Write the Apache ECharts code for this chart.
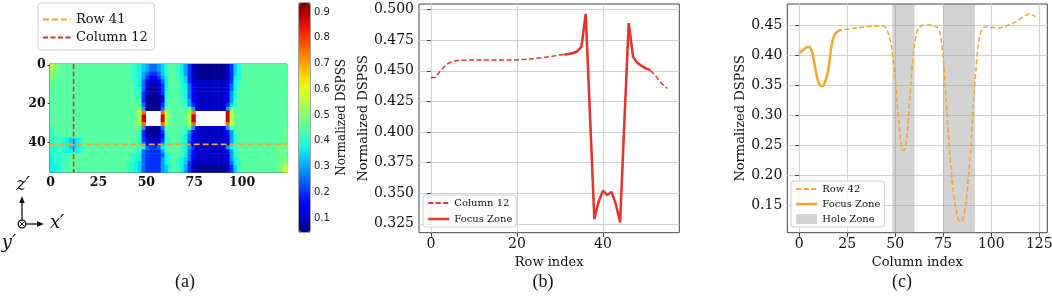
<!DOCTYPE html>
<html><head><meta charset="utf-8">
<script src="https://cdn.jsdelivr.net/npm/echarts@6/dist/echarts.min.js"></script>
<style>html,body{margin:0;padding:0;background:#fff;}#c{width:1052px;height:299px;}</style>
</head><body><div id="c"></div>
<script>
// ---------- Panel (a): DSPSS map, one char = one 2x2 block of cells (124 cols x 56 rows) ----------
const levelChars  = 'abcdefghijklmnopqr';
const levelValues = [0.06,0.10,0.15,0.20,0.25,0.30,0.34,0.37,0.40,0.42,0.45,0.47,0.50,0.55,0.60,0.65,0.75,0.88];
// columns 0-39
const heatA = [
'nmlkkkkkkkkkkkkkkkkk','nmlkkkkkkkkkkkkkkkkk','mlkkkkkkkkkkkkkkkkkk','mlkkkkkkkkkkkkkkkkkk',
'lkkkkkkkkkkkkkkkkkkk','lkkkkkkkkkkkkkkkkkkk','kkkkkkkkkkkkkkkkkkkk','kkkkkkkkkkkkkkkkkkkk',
'kkkkkkkkkkkkkkkkkkkk','kkkkkkkkkkkkkkkkkkkk','kkkkkkkkkkkkkkkkkkkk','kkkkkkkkkkkkkkkkkkkk',
'kkkkkkkkkkkkkkkkkkkk','kkkkkkkkkkkkkkkkkkkk','kkkkkkkkkkkkkkkkkkkk','kkkkkkkkkkkkkkkkkkkk',
'jkkkkkkkkkkkkkkkkkkk','jkkkkkkkkkkkkkkkkkkk','jjkkkkkkkkkkkkkkkkkk','ijjihgghikkkkkkkkkkk',
'ijjihgghjkkkkkkkkkkk','iijihgghijkkkkkkkkkk','iijihhhhjkkkkkkkkkkk','hiijjklkkkkkkkkkkkkk',
'hiijjkkkkkkkkkkkkkkk','hiijkkkkkkkkkkkkkkkk','hhijkkkkkkkkkkkkkkkk','hhijkkkkkkkkkkkkkkkk'];
// columns 40-63 (first hole)
const heatB = [
'kjihgfeefgik','kjihgfeefgik','kjihfeddegik','kjihfdccdfhk','kkihecbbcehk','kkjhebbbbdhk',
'kkjiebaabdhk','kkjidbaabdik','kkkidaaaacik','kkkjdaaaacik','kkljeaaaadjk','kklmfaaaaelk',
'kklnq....qnl','kklnr....rnl','kklnr....rnl','kklnq....qnl','kklmfaaaaelk','kkkjdaaaadjk',
'kkkjdbaabcik','kkkidbbbbdik','kkjiecbbceik','kkkjieddehjk','kkjieddddfik','kjiheddddehj',
'kjiheddddfhj','jihgeddddfhj','jihgeddddfgi','jihgeddddfgi'];
// columns 64-103 (second hole)
const heatC = [
'kjhfdbaaaaaaaabdgikk','kjhfdbaaaaaaaabdgikk','kjhfdbaaaaaaaabdgikk','kjigdbaaaaaaaabdhikk',
'kkigdbbbbbbbbbbdhjkk','kkihecbbbbbbbbcehjkk','kkihecbbbbbbbbcehkkk','kkjhecbbbbbbbbcfikkk',
'kkjhecbbbbbbbbcfikkk','kkjifcbbbbbbbbcfjkkk','kkjjfdbbbbbbbbdgjkkk','kkkjlfbbbbbbbbflkkkk',
'kkklnq........rnlkkk','kkklnr........rnlkkk','kkklnr........rnlkkk','kkklnq........qnlkkk',
'kkkjlfbbbbbbbbflkkkk','kkjjfcbbbbbbbbcfjkkk','kkjhecbbbbbbbbcfikkk','kkjhecbbbbbbbbcfikkk',
'kkjhdcbbbbbbbbcfikkk','kkjhfdbbbbbbbcfhjkkk','kkjhecbbbbbbbbcfikkk','kkjhecbbbbbbbbcfikkk',
'kjhgecbbbbbbbbcfhjkk','kjhgdbbbbbbbbbbehjkk','kjhfdbaaaaaaaabdgjkk','kjhfdbaaaaaaaabdgjkk'];
// columns 104-123
const heatD = [
'kkkkkkkkkk','kkkkkkkkkk','kkkkkkkkkk','kkkkkkkkkk','kkkkkkkkkk','kkkkkkkkkk','kkkkkkkkkk',
'kkkkkkkkkk','kkkkkkkkkk','kkkkkkkkkk','kkkkkkkkkk','kkkkkkkkkk','kkkkkkkkkk','kkkkkkkkkk',
'kkkkkkkkkk','kkkkkkkkkk','kkkkkkkkkl','kkkkkkkkkl','kkkkkkkkkl','kkkkkkkkkl','kkkkkkkkkl',
'kkkkkkllll','kkkkkkklll','kkkkkkklll','kkkkkkkllm','kkkkkkklmm','kkkkkkklmn','kkkkkkkkmo'];
const heatXTicks = [0,25,50,75,100];
const heatYTicks = [0,20,40];
const cbarTicks  = [0.1,0.2,0.3,0.4,0.5,0.6,0.7,0.8,0.9];
const cbarRange  = [0.046, 0.935];
const markRow = 41;
const markCol = 12;

// ---------- Panel (b): Column 12 profile ----------
const rowIndexB = [0,1,2,3,4,5,6,7,8,9,10,11,12,13,14,15,16,17,18,19,20,21,22,23,24,25,26,27,
  28,29,30,31,32,33,34,35,36,37,38,39,40,41,42,43,44,45,46,47,48,49,50,51,52,53,54,55];
const column12 = [
0.4445,0.4445,0.449,0.453,0.456,0.4578,0.4584,0.4586,0.4587,0.4588,
0.4588,0.4588,0.4588,0.4588,0.4588,0.4588,0.4588,0.4588,0.4589,0.4589,
0.459,0.4592,0.4594,0.4597,0.460,0.4604,0.4608,0.4613,0.4618,0.4624,
0.463,0.4634,0.4637,0.4645,0.4658,0.4695,0.4965,0.413,0.329,0.343,
0.352,0.3485,0.351,0.341,0.326,0.41,0.489,0.4615,0.4565,0.454,
0.452,0.4505,0.447,0.4425,0.4385,0.4355];
const focusB = [31, 51];
const bXTicks = [0,20,40];
const bYTicks = [0.325,0.35,0.375,0.4,0.425,0.45,0.475,0.5];

// ---------- Panel (c): Row 42 profile ----------
const colIndexC = [0,2,4,5,6,7,8,9,10,11,12,13,14,15,16,17,18,19,20,22,25,30,35,40,43,45,46,47,48,49,
  50,51,52,53,54,55,56,57,58,59,60,61,62,64,66,68,70,72,73,74,75,76,77,78,79,80,81,82,83,84,
  85,86,87,88,89,90,91,92,93,94,95,96,98,100,103,106,109,112,115,118,120,122,123];
const row42 = [0.403,0.408,0.413,0.4135,0.411,0.402,0.385,0.368,0.355,0.349,0.348,0.351,0.360,0.372,0.395,
  0.418,0.430,0.436,0.439,0.442,0.443,0.445,0.447,0.448,0.448,0.446,0.440,0.430,0.415,0.390,
  0.360,0.320,0.285,0.255,0.241,0.242,0.260,0.300,0.345,0.385,0.415,0.435,0.444,0.449,0.450,
  0.450,0.449,0.446,0.440,0.425,0.395,0.350,0.300,0.255,0.215,0.180,0.155,0.137,0.125,0.122,
  0.125,0.137,0.158,0.190,0.230,0.280,0.330,0.375,0.410,0.432,0.442,0.446,0.447,0.446,0.445,
  0.446,0.450,0.454,0.460,0.466,0.468,0.466,0.464];
const focusC = [0, 22];
const holeZones = [[48.5, 60], [75, 91.5]];
const cXTicks = [0,25,50,75,100,125];
const cYTicks = [0.15,0.2,0.25,0.3,0.35,0.4,0.45];

// ---------- build ----------
const heatData = [];
heatA.forEach((_, j) => {
  const s = heatA[j] + heatB[j] + heatC[j] + heatD[j];
  for (let i = 0; i < s.length; i++) {
    const k = levelChars.indexOf(s[i]);
    if (k >= 0) heatData.push([2 * i, 2 * j, levelValues[k]]);
  }
});
const jet = ['#000080','#0000c8','#0000ff','#0040ff','#0080ff','#00bfff','#15ffe2','#48ffaf','#7bff7b',
  '#afff48','#e2ff15','#ffd200','#ff9700','#ff5c00','#ff2100','#c80000','#800000'];
const SERIF = 'DejaVu Serif';
const RED = '#e8332a', ORANGE = '#f5a62b';
const txt = (size, extra) => Object.assign({fontFamily: SERIF, fontSize: size, color: '#111'}, extra || {});
const lineB = rowIndexB.map((r, i) => [r, column12[i]]);
const focusLineB = lineB.filter(p => p[0] >= focusB[0] && p[0] <= focusB[1]);
const lineC = colIndexC.map((c, i) => [c, row42[i]]);
const focusLineC = lineC.filter(p => p[0] >= focusC[0] && p[0] <= focusC[1]);

function frameAxis(grid, min, max, ticks, name, gap, fmt) {
  return {gridIndex: grid, type: 'value', min: min, max: max,
    axisLine: {show: false},
    axisTick: {show: true, length: 4, customValues: ticks, lineStyle: {color: '#444'}},
    axisLabel: Object.assign({customValues: ticks, margin: 5, formatter: fmt}, txt(14)),
    splitLine: {show: true, lineStyle: {color: '#d2d2d2', width: 1}},
    name: name, nameLocation: 'middle', nameGap: gap, nameTextStyle: txt(13)};
}

const option = {
  animation: false,
  backgroundColor: '#fff',
  grid: [
    {left: 49.7, top: 64, width: 237.3, height: 108.5, show: true, borderColor: '#666', borderWidth: 1, backgroundColor: 'transparent', outerBoundsMode: 'none'},
    {left: 299, top: 3, width: 11, height: 229, show: true, borderColor: '#444', borderWidth: 1, outerBoundsMode: 'none'},
    {left: 419, top: 4, width: 260.3, height: 228.7, show: true, borderColor: '#444', borderWidth: 1, outerBoundsMode: 'none'},
    {left: 787.3, top: 4, width: 260, height: 228.7, show: true, borderColor: '#444', borderWidth: 1, outerBoundsMode: 'none'}
  ],
  xAxis: [
    {gridIndex: 0, type: 'value', min: -0.5, max: 123.5, axisLine: {show: false},
      axisTick: {show: true, length: 3, customValues: heatXTicks, lineStyle: {color: '#222'}},
      axisLabel: Object.assign({customValues: heatXTicks, margin: 4}, txt(12.5, {fontWeight: 'bold'})),
      splitLine: {show: false}},
    {gridIndex: 1, type: 'value', min: 0, max: 1, show: false},
    frameAxis(2, -2.75, 57.75, bXTicks, 'Row index', 21),
    frameAxis(3, -6.15, 129.15, cXTicks, 'Column index', 21)
  ],
  yAxis: [
    {gridIndex: 0, type: 'value', inverse: true, min: -0.5, max: 55.5, axisLine: {show: false},
      axisTick: {show: true, length: 3, customValues: heatYTicks, lineStyle: {color: '#222'}},
      axisLabel: Object.assign({customValues: heatYTicks, margin: 4}, txt(12.5, {fontWeight: 'bold'})),
      splitLine: {show: false}},
    {gridIndex: 1, type: 'value', position: 'right', min: cbarRange[0], max: cbarRange[1], axisLine: {show: false},
      axisTick: {show: true, length: 3, customValues: cbarTicks, lineStyle: {color: '#222'}},
      axisLabel: {customValues: cbarTicks, margin: 4, formatter: v => v.toFixed(1), fontFamily: 'DejaVu Sans', fontSize: 10, color: '#222'},
      splitLine: {show: false},
      name: 'Normalized DSPSS', nameLocation: 'middle', nameRotate: 90, nameGap: 26, nameTextStyle: txt(12)},
    frameAxis(2, 0.3177, 0.5046, bYTicks, 'Normalized DSPSS', 47, v => v.toFixed(3)),
    frameAxis(3, 0.1038, 0.4849, cYTicks, 'Normalized DSPSS', 39, v => v.toFixed(2))
  ],
  visualMap: {
    type: 'continuous', seriesIndex: 0, dimension: 2, min: cbarRange[0], max: cbarRange[1],
    orient: 'vertical', left: 299, top: 3, itemWidth: 11, itemHeight: 229, padding: 0,
    calculable: false, hoverLink: false, inRange: {color: jet}
  },
  legend: [
    {data: [{name: 'Row 41'}, {name: 'Column 12'}], orient: 'vertical', left: 38, top: 3,
      itemWidth: 28, itemHeight: 14, itemGap: 5, padding: [10, 7, 6, 4],
      textStyle: txt(13), itemStyle: {opacity: 0},
      borderColor: '#cfcfcf', borderWidth: 1, borderRadius: 3, backgroundColor: 'rgba(255,255,255,0.85)'},
    {data: [{name: 'Column 12\u200b'}, {name: 'Focus Zone', lineStyle: {width: 2.5}}], orient: 'vertical', left: 423, top: 195,
      itemWidth: 21, itemHeight: 10, itemGap: 6, padding: [3, 4, 3, 4],
      textStyle: txt(10), itemStyle: {opacity: 0},
      borderColor: '#cfcfcf', borderWidth: 1, borderRadius: 3, backgroundColor: 'rgba(255,255,255,0.85)'},
    {data: [{name: 'Row 42'}, {name: 'Focus Zone\u200b', lineStyle: {width: 2.5}}, {name: 'Hole Zone', icon: 'rect', itemStyle: {opacity: 1}}],
      orient: 'vertical', left: 791, top: 181,
      itemWidth: 21, itemHeight: 10, itemGap: 5, padding: [3, 4, 3, 4],
      textStyle: txt(10), itemStyle: {opacity: 0},
      borderColor: '#cfcfcf', borderWidth: 1, borderRadius: 3, backgroundColor: 'rgba(255,255,255,0.85)'}
  ],
  series: [
    {type: 'custom', name: 'DSPSS map', xAxisIndex: 0, yAxisIndex: 0, clip: true, data: heatData,
      renderItem: function (params, api) {
        const x = api.value(0), y = api.value(1);
        const p0 = api.coord([x - 0.5, y - 0.5]);
        const p1 = api.coord([x + 1.5, y + 1.5]);
        return {type: 'rect', shape: {x: Math.min(p0[0], p1[0]), y: Math.min(p0[1], p1[1]),
          width: Math.abs(p1[0] - p0[0]) + 0.6, height: Math.abs(p1[1] - p0[1]) + 0.6},
          style: {fill: api.visual('color')}};
      }},
    {type: 'line', name: 'Row 41', xAxisIndex: 0, yAxisIndex: 0, symbol: 'none', z: 5,
      data: [[-0.5, markRow], [123.5, markRow]], lineStyle: {color: ORANGE, width: 1.6, type: [6, 3]}, itemStyle: {color: ORANGE}},
    {type: 'line', name: 'Column 12', xAxisIndex: 0, yAxisIndex: 0, symbol: 'none', z: 5,
      data: [[markCol, -0.5], [markCol, 55.5]], lineStyle: {color: '#dd3328', width: 1.6, type: [5, 2.5]}, itemStyle: {color: '#dd3328'}},
    {type: 'line', name: 'Column 12\u200b', xAxisIndex: 2, yAxisIndex: 2, symbol: 'none', z: 3,
      data: lineB, lineStyle: {color: RED, width: 1.5, type: [5, 2.5]}, itemStyle: {color: RED}},
    {type: 'line', name: 'Focus Zone', xAxisIndex: 2, yAxisIndex: 2, symbol: 'none', z: 4,
      data: focusLineB, lineStyle: {color: RED, width: 2.5}, itemStyle: {color: RED}},
    {type: 'custom', name: 'Hole Zone', xAxisIndex: 3, yAxisIndex: 3, data: holeZones, z: 1,
      encode: {x: [0, 1]}, itemStyle: {color: 'rgba(140,140,140,0.38)'},
      renderItem: function (params, api) {
        const cs = params.coordSys;
        const xa = api.coord([api.value(0), 0.3])[0], xb = api.coord([api.value(1), 0.3])[0];
        return {type: 'rect', shape: {x: xa, y: cs.y, width: xb - xa, height: cs.height},
          style: {fill: api.visual('color')}};
      }},
    {type: 'line', name: 'Row 42', xAxisIndex: 3, yAxisIndex: 3, symbol: 'none', smooth: 0.3, z: 3,
      data: lineC, lineStyle: {color: ORANGE, width: 1.5, type: [5, 2.5]}, itemStyle: {color: ORANGE}},
    {type: 'line', name: 'Focus Zone\u200b', xAxisIndex: 3, yAxisIndex: 3, symbol: 'none', smooth: 0.3, z: 4,
      data: focusLineC, lineStyle: {color: ORANGE, width: 2.5}, itemStyle: {color: ORANGE}}
  ],
  graphic: {elements: [
    {type: 'text', x: 185, y: 282, style: {text: '(a)', align: 'center', verticalAlign: 'middle', fontFamily: 'Liberation Serif', fontSize: 18, fill: '#111'}},
    {type: 'text', x: 543, y: 282, style: {text: '(b)', align: 'center', verticalAlign: 'middle', fontFamily: 'Liberation Serif', fontSize: 18, fill: '#111'}},
    {type: 'text', x: 902, y: 282, style: {text: '(c)', align: 'center', verticalAlign: 'middle', fontFamily: 'Liberation Serif', fontSize: 18, fill: '#111'}},
    {type: 'line', shape: {x1: 22, y1: 220, x2: 22, y2: 201}, style: {stroke: '#111', lineWidth: 1.3}},
    {type: 'polygon', shape: {points: [[22, 196], [19.3, 203], [24.7, 203]]}, style: {fill: '#111'}},
    {type: 'line', shape: {x1: 26, y1: 224, x2: 39, y2: 224}, style: {stroke: '#111', lineWidth: 1.3}},
    {type: 'polygon', shape: {points: [[44, 224], [37, 221.3], [37, 226.7]]}, style: {fill: '#111'}},
    {type: 'circle', shape: {cx: 22, cy: 224, r: 3.8}, style: {fill: '#fff', stroke: '#111', lineWidth: 1.3}},
    {type: 'line', shape: {x1: 19.6, y1: 221.6, x2: 24.4, y2: 226.4}, style: {stroke: '#111', lineWidth: 1}},
    {type: 'line', shape: {x1: 24.4, y1: 221.6, x2: 19.6, y2: 226.4}, style: {stroke: '#111', lineWidth: 1}},
    {type: 'text', x: 23, y: 185, style: {text: 'z\u2032', align: 'center', verticalAlign: 'middle', fontFamily: SERIF, fontStyle: 'italic', fontSize: 18, fill: '#111'}},
    {type: 'text', x: 57, y: 223, style: {text: 'x\u2032', align: 'center', verticalAlign: 'middle', fontFamily: SERIF, fontStyle: 'italic', fontSize: 18, fill: '#111'}},
    {type: 'text', x: 9, y: 243, style: {text: 'y\u2032', align: 'center', verticalAlign: 'middle', fontFamily: SERIF, fontStyle: 'italic', fontSize: 18, fill: '#111'}}
  ]}
};
const chart = echarts.init(document.getElementById('c'), null, {renderer: 'canvas', width: 1052, height: 299});
chart.setOption(option);
</script>
</body></html>
